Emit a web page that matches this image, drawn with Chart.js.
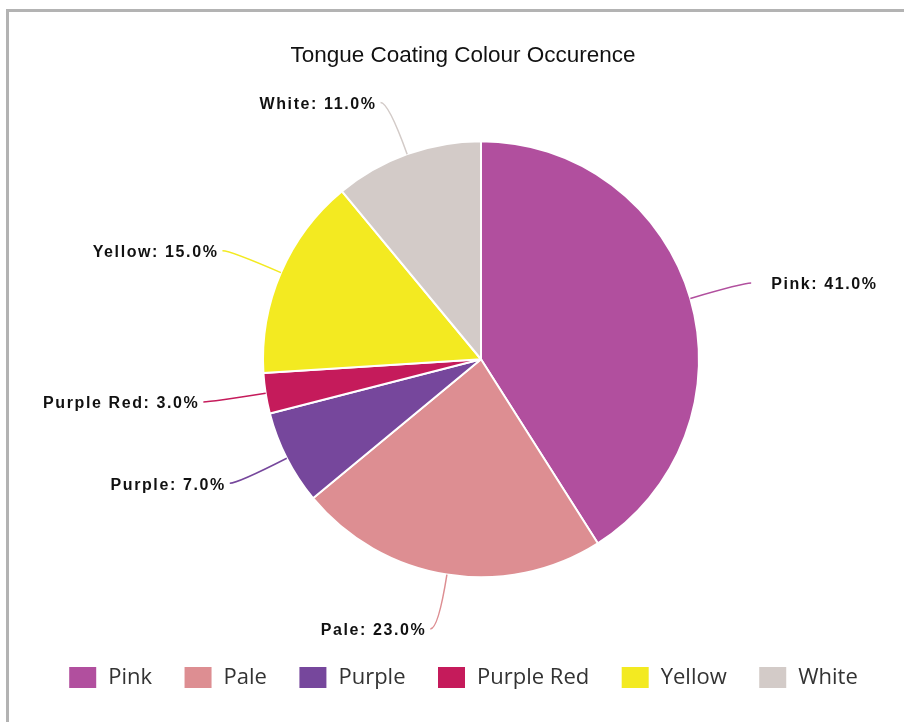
<!DOCTYPE html>
<html>
<head>
<meta charset="utf-8">
<script src="https://cdn.jsdelivr.net/npm/chart.js@4.4.1/dist/chart.umd.min.js"></script>
<style>
  html, body { margin: 0; padding: 0; background: #fff; }
  #wrap { position: relative; width: 904px; height: 722px; overflow: hidden; }
  #frame {
    position: absolute; left: 6px; top: 9px; width: 1000px; height: 1000px;
    border-left: 3px solid #b3b3b3; border-top: 3px solid #b3b3b3;
  }
  #pie { position: absolute; left: 0; top: 0; }
</style>
</head>
<body>
<div id="wrap">
  <div id="frame"></div>
  <canvas id="pie" width="904" height="722"></canvas>
</div>
<script>
const categories = ['Pink', 'Pale', 'Purple', 'Purple Red', 'Yellow', 'White'];
const occurrence = [41, 23, 7, 3, 15, 11];
const sliceColours = ['#b14f9e', '#dd8e92', '#76479c', '#c51b5b', '#f3ea21', '#d3cbc8'];

// nudge the pie right of the title/legend centre, like the original
const shiftPie = {
  id: 'shiftPie',
  afterLayout(chart) {
    chart.chartArea.left += 18;
    chart.chartArea.right += 18;
  }
};

// outside labels with curved leader lines
const outsideLabels = {
  id: 'outsideLabels',
  afterDatasetsDraw(chart) {
    const ctx = chart.ctx;
    const meta = chart.getDatasetMeta(0);
    const values = chart.data.datasets[0].data;
    const total = values.reduce((a, b) => a + b, 0);
    ctx.save();
    ctx.font = 'bold 16px "Liberation Sans", Arial, sans-serif';
    ctx.letterSpacing = '1.6px';
    ctx.textBaseline = 'middle';
    meta.data.forEach((arc, i) => {
      const p = arc.getProps(['x', 'y', 'startAngle', 'endAngle', 'outerRadius'], true);
      const mid = (p.startAngle + p.endAngle) / 2;
      const cos = Math.cos(mid), sin = Math.sin(mid);
      const side = cos >= 0 ? 1 : -1;
      const x0 = p.x + cos * p.outerRadius, y0 = p.y + sin * p.outerRadius;
      const xe = p.x + cos * (p.outerRadius + 55), ye = p.y + sin * (p.outerRadius + 55);
      const x1 = xe + side * 8;
      ctx.strokeStyle = sliceColours[i];
      ctx.lineWidth = 1.5;
      ctx.beginPath();
      ctx.moveTo(x0, y0);
      ctx.quadraticCurveTo(xe, ye, x1, ye);
      ctx.stroke();
      ctx.fillStyle = '#111';
      ctx.textAlign = side > 0 ? 'left' : 'right';
      const pct = (values[i] / total * 100).toFixed(1) + '%';
      ctx.fillText(categories[i] + ': ' + pct, x1 + (side > 0 ? 20 : -4), ye + 2);
    });
    ctx.restore();
  }
};

new Chart(document.getElementById('pie'), {
  type: 'pie',
  data: {
    labels: categories,
    datasets: [{
      data: occurrence,
      backgroundColor: sliceColours,
      borderColor: '#ffffff',
      borderWidth: 2,
      radius: 218
    }]
  },
  options: {
    responsive: false,
    animation: false,
    layout: { padding: { left: 22, right: 0, top: 0, bottom: 23 } },
    plugins: {
      title: {
        display: true,
        text: 'Tongue Coating Colour Occurence',
        color: '#111',
        font: { family: '"Liberation Sans", Arial, sans-serif', size: 22.5, weight: 'normal' },
        padding: { top: 42, bottom: 15 }
      },
      legend: {
        position: 'bottom',
        labels: {
          color: '#333',
          boxWidth: 29,
          boxHeight: 23,
          padding: 31.5,
          font: { family: '"Open Sans", sans-serif', size: 22 }
        }
      },
      tooltip: { enabled: false }
    }
  },
  plugins: [shiftPie, outsideLabels]
});
</script>
</body>
</html>
